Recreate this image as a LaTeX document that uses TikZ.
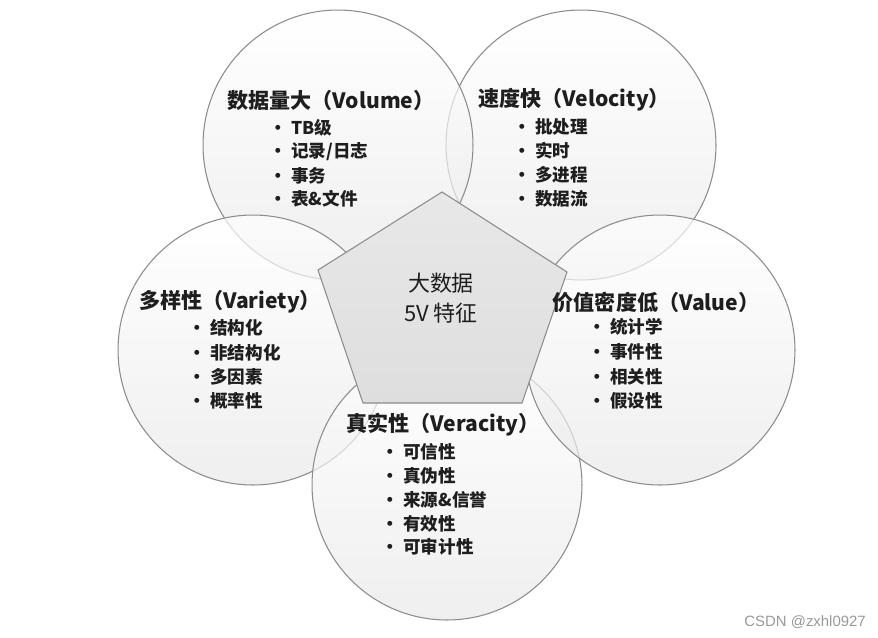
\documentclass[tikz,border=0pt]{standalone}
\usepackage{fontspec}
\setmainfont{Noto Sans CJK SC}
\newfontfamily\markfont{Liberation Sans}
\usepackage{xcolor}
\usepackage{tikz}
\usetikzlibrary{shapes.geometric}
\definecolor{ringline}{HTML}{8C8C8C}
\definecolor{ringshade}{HTML}{E8E8E8}
\definecolor{penta}{HTML}{DEDEDE}
\definecolor{inktext}{HTML}{1E1E1E}
\tikzset{
    ring/.style={circle, draw=ringline, line width=0.6pt, minimum size=5.4cm,
        inner sep=0pt, top color=white, bottom color=ringshade, fill opacity=0.7},
    headtext/.style={font=\fontsize{12}{14}\selectfont\bfseries, text=inktext},
    itemtext/.style={font=\fontsize{10}{12}\selectfont\bfseries, text=inktext,
        anchor=west, inner sep=0pt},
    coretext/.style={font=\fontsize{12.5}{17}\selectfont, text=inktext, align=center},
    marktext/.style={font=\markfont\fontsize{8.5}{10}\selectfont, text=black!40, anchor=east}
}
% bullet centred in a 26px box, text after it
\newcommand{\bul}[1]{\makebox[0.52cm][c]{•}#1}

\begin{document}
\begin{tikzpicture}[x=0.02cm, y=-0.02cm]
    \useasboundingbox (0,0) rectangle (878,637);
    % five rings, back to front
    \node[ring] (velocity) at (581,145) {};
    \node[ring] (volume) at (338,145) {};
    \node[ring] (variety) at (253,350) {};
    \node[ring] (veracity) at (447,485) {};
    \node[ring] (value) at (660,350) {};
    % centre pentagon
    \coordinate (p1) at (442,192);
    \coordinate (p2) at (567,272);
    \coordinate (p3) at (522,403);
    \coordinate (p4) at (363,403);
    \coordinate (p5) at (318,270);
    \draw[ringline, line width=0.6pt, top color=penta!70!white, bottom color=penta]
        (p1) -- (p2) -- (p3) -- (p4) -- (p5) -- cycle;
    \node[coretext] (core) at (441,298) {大数据\\5V 特征};
    % titles
    \node[headtext] (vol-head) at (331,100) {数据量大（Volume）};
    \node[headtext] (vel-head) at (574,100) {速度快（Velocity）};
    \node[headtext] (var-head) at (230,302) {多样性（Variety）};
    \node[headtext] (val-head) at (656,302) {价值密度低（Value）};
    \node[headtext] (ver-head) at (443,425) {真实性（Veracity）};
    % bullet lists
    \foreach \t [count=\i] in {TB级,记录/日志,事务,表\&文件}
        \node[itemtext] (vol-\i) at (265,{128+23.7*(\i-1)}) {\bul{\t}};
    \foreach \t [count=\i] in {批处理,实时,多进程,数据流}
        \node[itemtext] (vel-\i) at (509,{127+24*(\i-1)}) {\bul{\t}};
    \foreach \t [count=\i] in {结构化,非结构化,多因素,概率性}
        \node[itemtext] (var-\i) at (184,{328+24.3*(\i-1)}) {\bul{\t}};
    \foreach \t [count=\i] in {统计学,事件性,相关性,假设性}
        \node[itemtext] (val-\i) at (584,{327+24.7*(\i-1)}) {\bul{\t}};
    \foreach \t [count=\i] in {可信性,真伪性,来源\&信誉,有效性,可审计性}
        \node[itemtext] (ver-\i) at (377,{452+23.8*(\i-1)}) {\bul{\t}};
    \node[marktext] (mark) at (872,622) {CSDN @zxhl0927};
\end{tikzpicture}
\end{document}
